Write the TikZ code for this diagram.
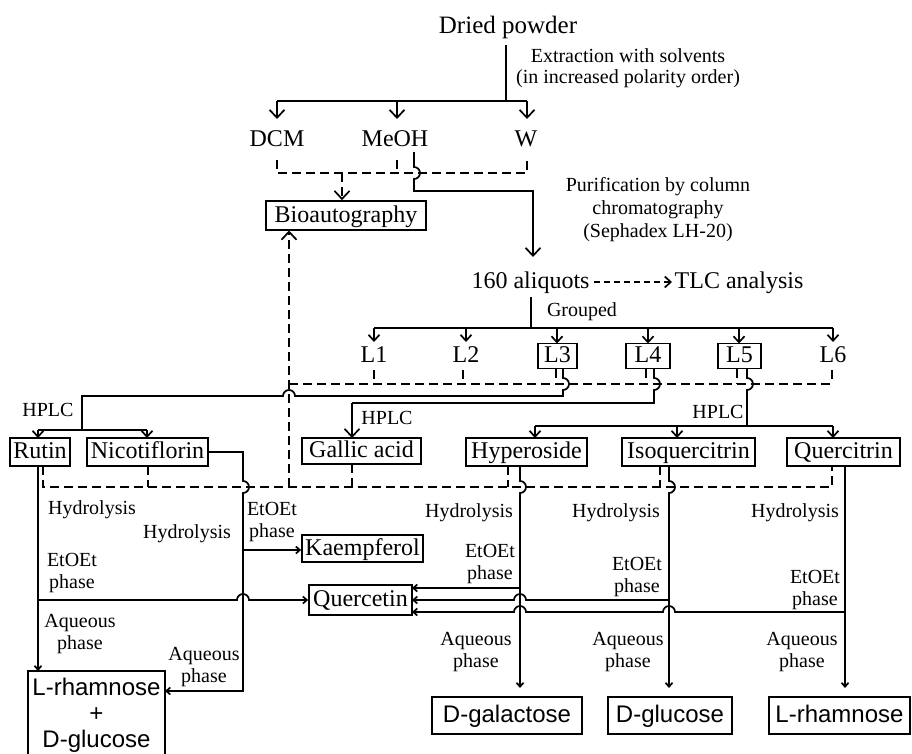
\documentclass[tikz,border=0pt]{standalone}
\usepackage{fontspec}
\setmainfont{Liberation Serif}
\setsansfont{Liberation Sans}
\usetikzlibrary{arrows.meta}
\begin{document}
\begin{tikzpicture}[x=1pt,y=-1pt,
  lnw/.style={line width=1.7pt},
  dshl/.style={line width=1.7pt,dash pattern=on 9pt off 5pt},
  arbig/.style={-{Straight Barb[length=8pt,width=15pt]}},
  armid/.style={-{Straight Barb[length=6pt,width=11pt]}},
  arsm/.style={-{Straight Barb[length=4pt,width=7pt]}},
  txtmain/.style={font=\fontsize{24}{26}\selectfont,inner sep=0pt},
  txtlbl/.style={font=\fontsize{20}{21.5}\selectfont,inner sep=0pt,align=center},
  boxa/.style={draw,line width=1.7pt,font=\fontsize{24}{26}\selectfont,inner sep=0pt,text height=16pt,text depth=3pt},
  boxs/.style={draw,line width=1.7pt,font=\sffamily\fontsize{24}{26}\selectfont,inner sep=0pt,text height=17pt,text depth=4pt,minimum height=37pt},
]
\useasboundingbox (0,0) rectangle (912,753);

% ---------- nodes ----------
\node[txtmain,font=\fontsize{25}{27}\selectfont,anchor=base] (dried) at (508,33) {Dried powder};
\node[txtlbl] (extr) at (628,68) {Extraction with solvents\\(in increased polarity order)};
\node[txtmain,anchor=base] (dcm) at (277,146) {DCM};
\node[txtmain,anchor=base] (meoh) at (395,146) {MeOH};
\node[txtmain,anchor=base] (w) at (526,146) {W};
\node[boxa,minimum width=160pt,minimum height=29pt] (bio) at (346,215.5) {Bioautography};
\node[txtlbl,font=\fontsize{20}{23}\selectfont] (purif) at (658,210) {Purification by column\\chromatography\\(Sephadex LH-20)};
\node[txtmain,anchor=base] (ali) at (530.5,288) {160 aliquots};
\node[txtmain,anchor=base] (tlc) at (739,288) {TLC analysis};
\node[txtlbl,anchor=base] (grp) at (582,316) {Grouped};

\node[boxa,draw=none] (l1) at (374,356) {L1};
\node[boxa,draw=none] (l2) at (466,356) {L2};
\node[boxa,minimum width=39pt,minimum height=25pt] (l3) at (557.5,356) {L3};
\node[boxa,minimum width=44pt,minimum height=25pt] (l4) at (648,356) {L4};
\node[boxa,minimum width=43pt,minimum height=25pt] (l5) at (739.5,356) {L5};
\node[boxa,draw=none] (l6) at (833,356) {L6};

\node[txtlbl,anchor=base] (hp1) at (48,416) {HPLC};
\node[txtlbl,anchor=base] (hp2) at (387,424) {HPLC};
\node[txtlbl,anchor=base] (hp3) at (718,418) {HPLC};

\node[boxa,minimum width=60pt,minimum height=28pt] (rutin) at (40,452) {Rutin};
\node[boxa,minimum width=121pt,minimum height=28pt] (nico) at (147.5,452) {Nicotiflorin};
\node[boxa,minimum width=119pt,minimum height=26pt] (gallic) at (361.5,451) {Gallic acid};
\node[boxa,minimum width=121pt,minimum height=28pt] (hyper) at (526.5,452) {Hyperoside};
\node[boxa,minimum width=133pt,minimum height=28pt] (isoq) at (688.5,452) {Isoquercitrin};
\node[boxa,minimum width=113pt,minimum height=28pt] (qctr) at (843.5,452) {Quercitrin};
\node[boxa,minimum width=121pt,minimum height=27pt] (kaem) at (362.5,548.5) {Kaempferol};
\node[boxa,minimum width=103pt,minimum height=30pt] (quer) at (360.5,600) {Quercetin};

\node[boxs,minimum width=150pt] (dgal) at (507,715.5) {D-galactose};
\node[boxs,minimum width=124pt] (dglu) at (670,715.5) {D-glucose};
\node[boxs,minimum width=141pt] (lrha) at (839.5,715.5) {L-rhamnose};
\node[font=\sffamily\fontsize{24}{26}\selectfont,align=center,inner sep=0pt,anchor=north] (mix) at (96.5,678) {L-rhamnose\\+\\D-glucose};
\draw[lnw] (28,756) -- (28,671) -- (165,671) -- (165,756);

% labels
\node[txtlbl,anchor=base] (hy1) at (92,514) {Hydrolysis};
\node[txtlbl,anchor=base] (hy2) at (187,538) {Hydrolysis};
\node[txtlbl,anchor=base] (hy3) at (469,517) {Hydrolysis};
\node[txtlbl,anchor=base] (hy4) at (616,517) {Hydrolysis};
\node[txtlbl,anchor=base] (hy5) at (795,517) {Hydrolysis};
\node[txtlbl] (et1) at (72,573) {EtOEt\\phase};
\node[txtlbl] (et2) at (272,522) {EtOEt\\phase};
\node[txtlbl] (et3) at (490,564) {EtOEt\\phase};
\node[txtlbl] (et4) at (637,577) {EtOEt\\phase};
\node[txtlbl] (et5) at (815,590) {EtOEt\\phase};
\node[txtlbl] (aq1) at (80,634) {Aqueous\\phase};
\node[txtlbl] (aq2) at (204,667) {Aqueous\\phase};
\node[txtlbl] (aq3) at (476,652) {Aqueous\\phase};
\node[txtlbl] (aq4) at (628,652) {Aqueous\\phase};
\node[txtlbl] (aq5) at (802,652) {Aqueous\\phase};

% ---------- dashed connectors ----------
\draw[dshl] (277,160) -- (277,173) -- (527,173) -- (527,160);
\draw[dshl] (397,160) -- (397,173);
\draw[dshl,arbig] (342,173) -- (bio.north -| 342,0);
\draw[line width=1.7pt,dash pattern=on 6pt off 4pt,armid] (594,282) -- (672,282);

\draw[dshl] (289,384) -- (832,384);
\draw[dshl] (374,370) -- (374,384);
\draw[dshl] (463,370) -- (463,384);
\draw[dshl] (556,368.5) -- (556,384);
\draw[dshl] (646,368.5) -- (646,384);
\draw[dshl] (737,368.5) -- (737,384);
\draw[dshl] (832,370) -- (832,384);

\draw[dshl] (43,466) -- (43,487) -- (832,487) -- (832,466);
\draw[dshl] (148,466) -- (148,487);
\draw[dshl] (352,464) -- (352,487);
\draw[dshl] (508,466) -- (508,487);
\draw[dshl] (660,466) -- (660,487);
\draw[dshl,arbig] (289,487) -- (289,230.5);

% ---------- solid connectors ----------
\draw[lnw] (506,45) -- (506,101);
\draw[lnw] (277,101) -- (527,101);
\draw[lnw,arbig] (277,101) -- (277,119);
\draw[lnw,arbig] (397,101) -- (397,119);
\draw[lnw,arbig] (527,101) -- (527,119);

\draw[lnw,arbig] (414,152) -- (414,167) arc[start angle=90,end angle=-90,radius=6pt] -- (414,191) -- (533,191) -- (533,257);

\draw[lnw] (531,297) -- (531,328);
\draw[lnw] (374,328) -- (833,328);
\draw[lnw,armid] (374,328) -- (374,342);
\draw[lnw,armid] (466,328) -- (466,342);
\draw[lnw,armid] (557,328) -- (557,343.5);
\draw[lnw,armid] (648,328) -- (648,343.5);
\draw[lnw,armid] (739,328) -- (739,343.5);
\draw[lnw,armid] (833,328) -- (833,342);

% L3 -> Rutin / Nicotiflorin
\draw[lnw] (563,368.5) -- (563,378) arc[start angle=90,end angle=-90,radius=6pt] -- (563,396) -- (295,396) arc[start angle=0,end angle=180,radius=6pt] -- (82,396) -- (82,430);
\draw[lnw] (38,430) -- (147,430);
\draw[lnw,armid] (38,430) -- (38,438);
\draw[lnw,armid] (147,430) -- (147,438);

% L4 -> Gallic acid
\draw[lnw] (654,368.5) -- (654,378) arc[start angle=90,end angle=-90,radius=6pt] -- (654,403) -- (352,403);
\draw[lnw,arbig] (352,403) -- (352,438);

% L5 -> Hyperoside, Isoquercitrin, Quercitrin
\draw[lnw] (747,368.5) -- (747,378) arc[start angle=90,end angle=-90,radius=6pt] -- (747,426);
\draw[lnw] (535,426) -- (833,426);
\draw[lnw,armid] (535,426) -- (535,438);
\draw[lnw,armid] (677,426) -- (677,438);
\draw[lnw,armid] (833,426) -- (833,438);

% Rutin
\draw[lnw,arsm] (38,466) -- (38,671);
\draw[lnw,arsm] (38,600) -- (237,600) arc[start angle=180,end angle=0,radius=6pt] -- (quer.west);

% Nicotiflorin
\draw[lnw,arsm] (nico.east) -- (243,452) -- (243,481) arc[start angle=90,end angle=-90,radius=6pt] -- (243,691) -- (165,691);
\draw[lnw,arsm] (243,550) -- (kaem.west |- 243,550);

% Hyperoside, Isoquercitrin, Quercitrin
\draw[lnw,arsm] (520,466) -- (520,481) arc[start angle=90,end angle=-90,radius=6pt] -- (520,688);
\draw[lnw,arsm] (669,466) -- (669,481) arc[start angle=90,end angle=-90,radius=6pt] -- (669,688);
\draw[lnw,arsm] (845,466) -- (845,688);

% to Quercetin
\draw[lnw,arsm] (520,588) -- (412,588);
\draw[lnw,arsm] (669,600) -- (526,600) arc[start angle=0,end angle=180,radius=6pt] -- (412,600);
\draw[lnw,arsm] (845,612) -- (675,612) arc[start angle=0,end angle=180,radius=6pt] -- (526,612) arc[start angle=0,end angle=180,radius=6pt] -- (412,612);
\end{tikzpicture}
\end{document}
